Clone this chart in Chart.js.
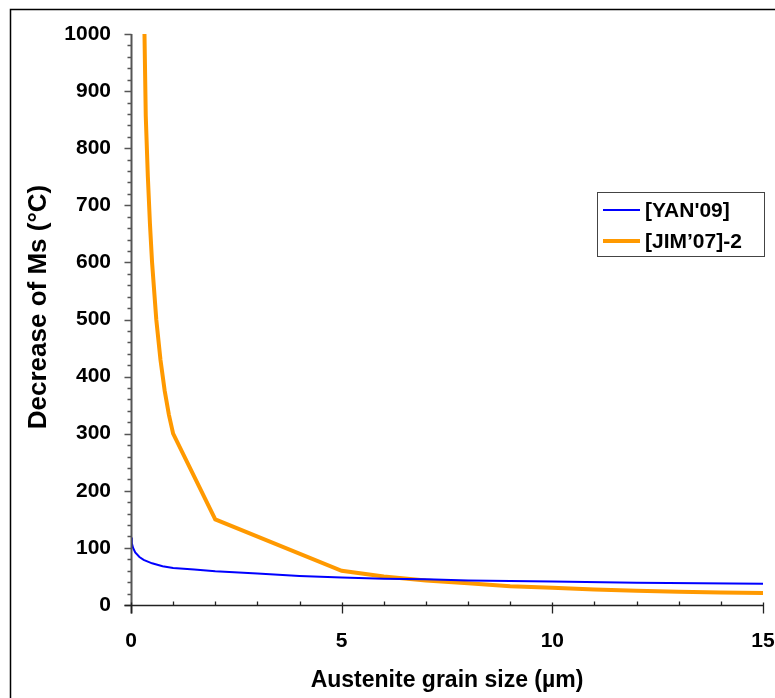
<!DOCTYPE html>
<html>
<head>
<meta charset="utf-8">
<script src="https://cdn.jsdelivr.net/npm/chart.js@4.4.1/dist/chart.umd.min.js"></script>
<style>
  html, body { margin: 0; padding: 0; background: #ffffff; }
  #wrap { width: 775px; height: 698px; position: relative; }
</style>
</head>
<body>
<div id="wrap"><canvas id="c" width="775" height="698"></canvas></div>
<script>
// ---- data ----
const seriesNames = ["[YAN'09]", "[JIM\u201907]-2"];

const grainSizeYan = [0, 0.02, 0.05, 0.1, 0.2, 0.3, 0.5, 0.75, 1, 1.5, 2, 3, 4, 5, 6, 7, 8, 9, 10, 12, 15];
const msDropYan    = [118, 108, 100, 92, 84, 79, 73, 68, 65, 62, 59, 55, 51, 48, 46, 45, 43, 42, 41, 39, 37];

const grainSizeJim = [0.32, 0.35, 0.4, 0.45, 0.5, 0.6, 0.7, 0.8, 0.9, 1, 2, 5, 6, 7, 8, 9, 10, 11, 12, 13, 14, 15];
const msDropJim    = [1000, 857, 750, 667, 600, 500, 429, 375, 333, 300, 150, 60, 50, 43, 38, 33, 30, 27, 25, 23, 22, 21];

const xMajorTicks = [0, 5, 10, 15];
const xMinorTicks = [1, 2, 3, 4, 6, 7, 8, 9, 11, 12, 13, 14];
const yMajorTicks = [0, 100, 200, 300, 400, 500, 600, 700, 800, 900, 1000];
const yMinorStep = 20;

const xTitle = "Austenite grain size (\u00b5m)";
const yTitle = "Decrease of Ms (\u00b0C)";

const FONT = "'Liberation Sans', Arial, sans-serif";

function toPoints(xs, ys) { return xs.map((x, i) => ({ x: x, y: ys[i] })); }

const framePlugin = {
  id: 'frame',
  beforeDraw(chart) {
    const ctx = chart.ctx;
    ctx.save();
    ctx.fillStyle = '#ffffff';
    ctx.fillRect(0, 0, chart.width, chart.height);
    ctx.strokeStyle = '#000000';
    ctx.lineWidth = 1.5;
    ctx.beginPath();
    ctx.moveTo(10.5, chart.height + 2);
    ctx.lineTo(10.5, 9.5);
    ctx.lineTo(chart.width + 2, 9.5);
    ctx.stroke();
    ctx.restore();
  }
};

const axesPlugin = {
  id: 'axesDeco',
  afterDatasetsDraw(chart) {
    const ctx = chart.ctx;
    const xs = chart.scales.x, ys = chart.scales.y;
    const x0 = Math.round(xs.getPixelForValue(0)) + 0.5;
    const y0 = Math.round(ys.getPixelForValue(0)) + 0.5;
    ctx.save();
    // y-axis ticks
    ctx.strokeStyle = '#555555';
    ctx.lineWidth = 1.3;
    ctx.beginPath();
    for (let v = 0; v <= 1000; v += yMinorStep) {
      const py = Math.round(ys.getPixelForValue(v)) + 0.5;
      const isMajor = yMajorTicks.indexOf(v) >= 0;
      ctx.moveTo(x0 - (isMajor ? 7 : 4), py);
      ctx.lineTo(x0, py);
    }
    ctx.stroke();
    // y-axis line
    ctx.lineWidth = 2;
    ctx.beginPath();
    ctx.moveTo(x0, Math.round(ys.getPixelForValue(1000)));
    ctx.lineTo(x0, y0 + 8);
    ctx.stroke();
    // x-axis ticks
    ctx.strokeStyle = '#222222';
    ctx.lineWidth = 1.3;
    ctx.beginPath();
    xMinorTicks.forEach(v => {
      const px = Math.round(xs.getPixelForValue(v)) + 0.5;
      ctx.moveTo(px, y0 - 4);
      ctx.lineTo(px, y0);
    });
    xMajorTicks.forEach(v => {
      const px = Math.round(xs.getPixelForValue(v)) + 0.5;
      ctx.moveTo(px, y0 - 3);
      ctx.lineTo(px, y0 + 8);
    });
    ctx.stroke();
    // x-axis line
    ctx.lineWidth = 1.6;
    ctx.beginPath();
    ctx.moveTo(x0 - 7, y0);
    ctx.lineTo(Math.round(xs.getPixelForValue(15)) + 0.5, y0);
    ctx.stroke();
    ctx.restore();
  }
};

const labelsPlugin = {
  id: 'boxLegendAndYTitle',
  afterDraw(chart) {
    const ctx = chart.ctx;
    const ds = chart.data.datasets;
    ctx.save();
    // y-axis title
    ctx.translate(39, 307);
    ctx.rotate(-Math.PI / 2);
    ctx.font = "bold 26px " + FONT;
    ctx.fillStyle = '#000000';
    ctx.textAlign = 'center';
    ctx.textBaseline = 'middle';
    ctx.fillText(yTitle, 0, 0);
    ctx.restore();

    ctx.save();
    const bx = 597.5, by = 192.5, bw = 167, bh = 64;
    ctx.fillStyle = '#ffffff';
    ctx.fillRect(bx, by, bw, bh);
    ctx.strokeStyle = '#444444';
    ctx.lineWidth = 1;
    ctx.strokeRect(bx, by, bw, bh);
    ctx.font = "bold 21px " + FONT;
    ctx.textBaseline = 'middle';
    ctx.textAlign = 'left';
    const rows = [210, 241];
    ds.forEach((d, i) => {
      ctx.strokeStyle = d.borderColor;
      ctx.lineWidth = d.borderWidth;
      ctx.beginPath();
      ctx.moveTo(603, rows[i]);
      ctx.lineTo(640, rows[i]);
      ctx.stroke();
      ctx.fillStyle = '#000000';
      ctx.fillText(d.label, 645, rows[i] + 1);
    });
    ctx.restore();
  }
};

new Chart(document.getElementById('c'), {
  type: 'line',
  data: {
    datasets: [
      {
        label: seriesNames[0],
        data: toPoints(grainSizeYan, msDropYan),
        borderColor: '#0000ff',
        borderWidth: 2,
        pointRadius: 0,
        tension: 0,
        fill: false
      },
      {
        label: seriesNames[1],
        data: toPoints(grainSizeJim, msDropJim),
        borderColor: '#ff9900',
        borderWidth: 4,
        pointRadius: 0,
        tension: 0,
        fill: false
      }
    ]
  },
  plugins: [framePlugin, axesPlugin, labelsPlugin],
  options: {
    responsive: false,
    animation: false,
    devicePixelRatio: 1,
    layout: { padding: { left: 0, top: 34, right: 12, bottom: 0 } },
    plugins: {
      legend: { display: false },
      tooltip: { enabled: false }
    },
    scales: {
      x: {
        type: 'linear',
        min: 0, max: 15,
        afterBuildTicks(scale) { scale.ticks = xMajorTicks.map(v => ({ value: v })); },
        afterFit(scale) {
          scale.height = 93;
          scale.paddingLeft = 0;
          scale.paddingRight = 0;
        },
        grid: { display: false, drawTicks: false },
        border: { display: false },
        ticks: {
          color: '#000000',
          font: { family: FONT, size: 21, weight: 'bold' },
          padding: 24,
          maxRotation: 0,
          autoSkip: false,
          callback: v => String(v)
        },
        title: {
          display: true,
          text: xTitle,
          color: '#000000',
          font: { family: FONT, size: 23, weight: 'bold' },
          padding: { top: 0, bottom: 4 }
        }
      },
      y: {
        type: 'linear',
        min: 0, max: 1000,
        afterBuildTicks(scale) { scale.ticks = yMajorTicks.map(v => ({ value: v })); },
        afterFit(scale) {
          scale.width = 131;
          scale.paddingTop = 0;
          scale.paddingBottom = 0;
        },
        grid: { display: false, drawTicks: false },
        border: { display: false },
        ticks: {
          color: '#000000',
          font: { family: FONT, size: 21, weight: 'bold' },
          padding: 20,
          autoSkip: false,
          callback: v => String(v)
        },
        title: { display: false }
      }
    }
  }
});
</script>
</body>
</html>
